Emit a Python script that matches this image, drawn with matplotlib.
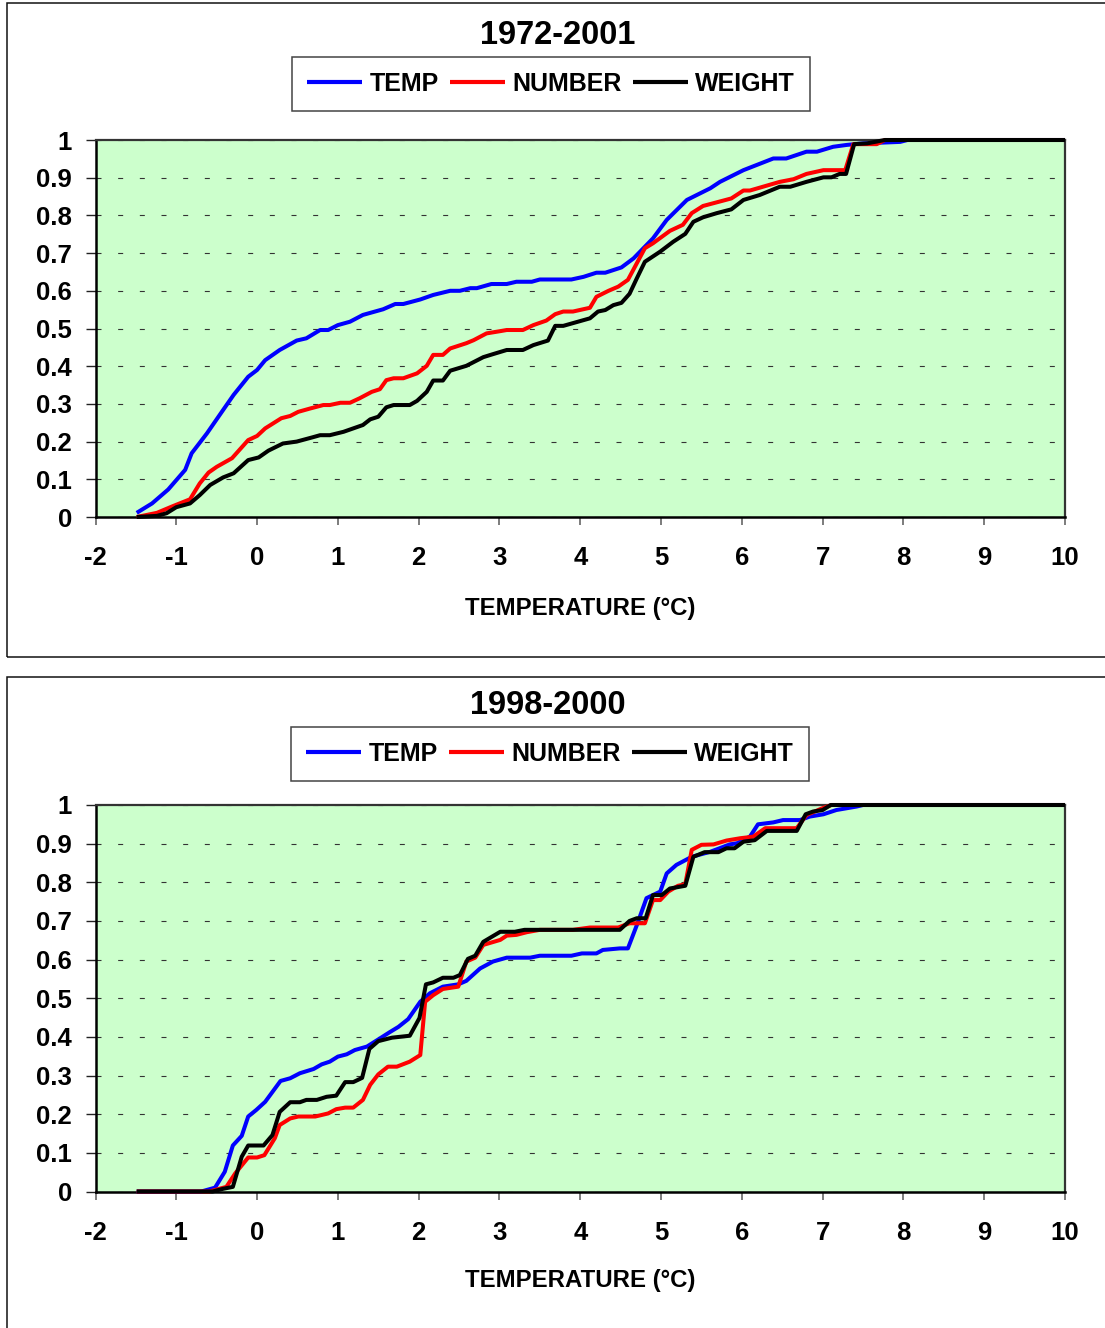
import matplotlib
matplotlib.use("Agg")
import matplotlib.pyplot as plt
from matplotlib.patches import Rectangle

# ---------------- data ----------------
titles = ["1972-2001", "1998-2000"]
series_names = ["TEMP", "NUMBER", "WEIGHT"]
x_ticks = [-2, -1, 0, 1, 2, 3, 4, 5, 6, 7, 8, 9, 10]
x_tick_labels = ["-2", "-1", "0", "1", "2", "3", "4", "5", "6", "7", "8", "9", "10"]
y_ticks = [0, 0.1, 0.2, 0.3, 0.4, 0.5, 0.6, 0.7, 0.8, 0.9, 1.0]
y_tick_labels = ["0", "0.1", "0.2", "0.3", "0.4", "0.5", "0.6", "0.7", "0.8", "0.9", "1"]
x_label = "TEMPERATURE (°C)"

# Panel 1: 1972-2001
p1_temp_x = [-1.49, -1.30, -1.10, -0.89, -0.81, -0.62, -0.42, -0.29, -0.11, 0.00, 0.10, 0.28, 0.49, 0.61,
             0.78, 0.88, 1.00, 1.15, 1.31, 1.56, 1.71, 1.81, 2.02, 2.18, 2.39, 2.51, 2.64, 2.72, 2.90, 3.09,
             3.21, 3.40, 3.50, 3.89, 4.04, 4.20, 4.31, 4.51, 4.66, 4.90, 5.07, 5.32, 5.61, 5.73, 6.02, 6.39,
             6.55, 6.80, 6.93, 7.13, 7.30, 7.50, 7.96, 8.05, 10.0]
p1_temp_y = [0.011, 0.036, 0.073, 0.125, 0.169, 0.222, 0.284, 0.324, 0.372, 0.390, 0.416, 0.443, 0.468, 0.474,
             0.496, 0.496, 0.509, 0.518, 0.536, 0.551, 0.565, 0.565, 0.577, 0.589, 0.600, 0.600, 0.607, 0.607,
             0.618, 0.618, 0.624, 0.624, 0.630, 0.630, 0.637, 0.648, 0.648, 0.662, 0.686, 0.739, 0.788, 0.841,
             0.872, 0.889, 0.920, 0.951, 0.951, 0.969, 0.969, 0.982, 0.987, 0.991, 0.995, 1.0, 1.0]

p1_num_x = [-1.49, -1.24, -1.04, -0.83, -0.71, -0.60, -0.50, -0.31, -0.11, 0.00, 0.10, 0.30, 0.41, 0.51,
            0.66, 0.82, 0.90, 1.03, 1.15, 1.27, 1.42, 1.52, 1.60, 1.69, 1.81, 1.98, 2.10, 2.18, 2.30, 2.39,
            2.59, 2.68, 2.84, 3.01, 3.09, 3.29, 3.42, 3.58, 3.69, 3.79, 3.91, 4.12, 4.20, 4.35, 4.47, 4.59,
            4.70, 4.80, 4.90, 5.11, 5.27, 5.38, 5.52, 5.87, 6.02, 6.10, 6.47, 6.64, 6.80, 7.01, 7.28, 7.38,
            7.67, 7.77, 10.0]
p1_num_y = [0.0, 0.011, 0.029, 0.047, 0.089, 0.118, 0.133, 0.156, 0.204, 0.215, 0.235, 0.262, 0.268, 0.279,
            0.288, 0.297, 0.297, 0.303, 0.303, 0.315, 0.332, 0.339, 0.363, 0.368, 0.368, 0.381, 0.401, 0.430,
            0.430, 0.447, 0.461, 0.469, 0.487, 0.493, 0.496, 0.496, 0.509, 0.521, 0.538, 0.545, 0.545, 0.555,
            0.584, 0.600, 0.611, 0.629, 0.673, 0.713, 0.726, 0.759, 0.775, 0.806, 0.825, 0.845, 0.866, 0.866,
            0.889, 0.896, 0.910, 0.920, 0.920, 0.989, 0.989, 1.0, 1.0]

p1_wt_x = [-1.49, -1.24, -1.12, -1.00, -0.83, -0.71, -0.58, -0.42, -0.29, -0.11, 0.02, 0.14, 0.32, 0.49,
           0.68, 0.78, 0.90, 1.07, 1.31, 1.40, 1.50, 1.60, 1.69, 1.89, 1.98, 2.10, 2.18, 2.30, 2.39, 2.59,
           2.80, 2.92, 3.09, 3.29, 3.42, 3.60, 3.69, 3.79, 4.12, 4.22, 4.31, 4.41, 4.51, 4.61, 4.70, 4.80,
           4.99, 5.15, 5.30, 5.40, 5.52, 5.69, 5.87, 6.02, 6.22, 6.47, 6.60, 6.80, 7.01, 7.11, 7.21, 7.29,
           7.39, 7.55, 7.77, 10.0]
p1_wt_y = [0.0, 0.003, 0.010, 0.026, 0.036, 0.058, 0.085, 0.105, 0.116, 0.151, 0.158, 0.176, 0.195, 0.200,
           0.211, 0.217, 0.217, 0.226, 0.244, 0.259, 0.266, 0.291, 0.297, 0.297, 0.308, 0.332, 0.362, 0.362,
           0.388, 0.401, 0.424, 0.432, 0.443, 0.443, 0.456, 0.468, 0.507, 0.507, 0.527, 0.545, 0.549, 0.562,
           0.568, 0.592, 0.633, 0.677, 0.704, 0.730, 0.751, 0.783, 0.795, 0.806, 0.816, 0.841, 0.854, 0.876,
           0.876, 0.889, 0.901, 0.901, 0.910, 0.910, 0.989, 0.991, 1.0, 1.0]

# Panel 2: 1998-2000
p2_temp_x = [-1.49, -0.69, -0.52, -0.40, -0.30, -0.19, -0.11, -0.01, 0.10, 0.29, 0.41, 0.53, 0.70, 0.80,
             0.90, 1.00, 1.11, 1.21, 1.36, 1.52, 1.64, 1.75, 1.87, 2.02, 2.14, 2.30, 2.49, 2.59, 2.76, 2.92,
             3.09, 3.38, 3.50, 3.89, 4.02, 4.20, 4.28, 4.49, 4.59, 4.70, 4.82, 4.99, 5.07, 5.19, 5.38, 5.61,
             5.85, 5.94, 6.10, 6.20, 6.39, 6.51, 6.72, 6.84, 7.01, 7.17, 7.42, 7.50, 10.0]
p2_temp_y = [0.0, 0.0, 0.010, 0.051, 0.119, 0.144, 0.194, 0.211, 0.232, 0.286, 0.293, 0.306, 0.317, 0.329,
             0.336, 0.349, 0.355, 0.366, 0.375, 0.396, 0.412, 0.426, 0.446, 0.491, 0.513, 0.530, 0.536, 0.545,
             0.577, 0.595, 0.605, 0.605, 0.610, 0.610, 0.616, 0.616, 0.625, 0.629, 0.629, 0.689, 0.759, 0.776,
             0.823, 0.845, 0.866, 0.879, 0.898, 0.901, 0.918, 0.950, 0.955, 0.961, 0.961, 0.970, 0.976, 0.987,
             0.996, 1.0, 1.0]

p2_num_x = [-1.49, -0.59, -0.38, -0.27, -0.11, 0.00, 0.09, 0.22, 0.28, 0.41, 0.51, 0.72, 0.88, 0.98,
            1.09, 1.19, 1.31, 1.40, 1.50, 1.62, 1.73, 1.89, 2.02, 2.08, 2.18, 2.30, 2.49, 2.59, 2.70, 2.80,
            3.01, 3.09, 3.21, 3.34, 3.50, 3.91, 4.12, 4.47, 4.61, 4.80, 4.90, 4.99, 5.09, 5.21, 5.30, 5.38,
            5.50, 5.65, 5.81, 5.98, 6.14, 6.29, 6.68, 6.80, 6.99, 7.11, 10.0]
p2_num_y = [0.0, 0.0, 0.012, 0.047, 0.088, 0.088, 0.094, 0.138, 0.172, 0.189, 0.194, 0.194, 0.202, 0.213,
            0.217, 0.217, 0.237, 0.276, 0.303, 0.323, 0.323, 0.336, 0.353, 0.491, 0.508, 0.524, 0.530, 0.595,
            0.605, 0.638, 0.651, 0.662, 0.664, 0.671, 0.677, 0.677, 0.683, 0.683, 0.694, 0.694, 0.754, 0.754,
            0.776, 0.791, 0.795, 0.884, 0.897, 0.898, 0.908, 0.914, 0.918, 0.940, 0.940, 0.974, 0.991, 1.0, 1.0]

p2_wt_x = [-1.49, -0.55, -0.42, -0.30, -0.19, -0.11, 0.08, 0.19, 0.28, 0.41, 0.53, 0.61, 0.74, 0.86,
           0.98, 1.09, 1.19, 1.30, 1.39, 1.50, 1.67, 1.89, 2.01, 2.09, 2.18, 2.30, 2.43, 2.51, 2.61, 2.70,
           2.80, 3.01, 3.19, 3.31, 4.49, 4.61, 4.70, 4.81, 4.90, 5.01, 5.11, 5.30, 5.40, 5.54, 5.71, 5.81,
           5.91, 6.02, 6.16, 6.31, 6.68, 6.79, 6.88, 7.00, 7.10, 10.0]
p2_wt_y = [0.0, 0.0, 0.007, 0.012, 0.090, 0.119, 0.119, 0.146, 0.206, 0.231, 0.231, 0.237, 0.237, 0.245,
           0.248, 0.283, 0.283, 0.294, 0.369, 0.389, 0.398, 0.403, 0.449, 0.536, 0.541, 0.553, 0.553, 0.560,
           0.602, 0.610, 0.646, 0.672, 0.672, 0.677, 0.677, 0.700, 0.707, 0.707, 0.767, 0.767, 0.784, 0.791,
           0.866, 0.878, 0.878, 0.888, 0.888, 0.905, 0.909, 0.933, 0.933, 0.976, 0.983, 0.987, 1.0, 1.0]

panels = [
    [(p1_temp_x, p1_temp_y), (p1_num_x, p1_num_y), (p1_wt_x, p1_wt_y)],
    [(p2_temp_x, p2_temp_y), (p2_num_x, p2_num_y), (p2_wt_x, p2_wt_y)],
]

# ---------------- style ----------------
colors = ["#0000FF", "#FF0000", "#000000"]
FONT = "Liberation Sans"
plt.rcParams["font.family"] = [FONT, "DejaVu Sans"]
plt.rcParams["font.weight"] = "bold"

W, H = 1105, 1328
fig = plt.figure(figsize=(W / 100, H / 100), dpi=100)
fig.patch.set_facecolor("white")

def fx(px):
    return px / W

def fy(py):
    return 1 - py / H

plot_boxes = [(95.5, 140, 1065, 517), (95.5, 805, 1065, 1191.5)]
frame_boxes = [(7, 3, 1120, 657), (7, 677, 1120, 1340)]
title_pos = [(558, 35), (548, 705)]
legend_pos = [(551, 84), (550, 754)]
xlabel_y = [608, 1281]

for i in range(2):
    fl, ft, fr, fb = frame_boxes[i]
    fig.patches.append(Rectangle((fx(fl), fy(fb)), fx(fr - fl), (fb - ft) / H,
                                 transform=fig.transFigure, fill=False,
                                 edgecolor="#111111", linewidth=1.1, zorder=0))

    l, t, r, b = plot_boxes[i]
    ax = fig.add_axes([fx(l), fy(b), fx(r - l), (b - t) / H])
    ax.set_facecolor("#CCFFCC")

    for (xs, ys), c, name in zip(panels[i], colors, series_names):
        ax.plot(xs, ys, color=c, lw=2.9, label=name, clip_on=False,
                solid_joinstyle="round", solid_capstyle="butt", zorder=3)

    ax.set_xlim(-2, 10)
    ax.set_ylim(0, 1)
    ax.set_xticks(x_ticks)
    ax.set_xticklabels(x_tick_labels)
    ax.set_yticks(y_ticks)
    ax.set_yticklabels(y_tick_labels)
    ax.tick_params(axis="x", direction="out", length=6, width=1.2, color="#666666",
                   pad=15, labelsize=18.5)
    ax.tick_params(axis="y", direction="out", length=7, width=1.0, color="#222222",
                   pad=10, labelsize=18.5)
    for lab in ax.get_xticklabels() + ax.get_yticklabels():
        lab.set_fontweight("bold")

    ax.yaxis.grid(True, linestyle=(0, (4.5, 15)), color="#333333", linewidth=0.8)
    ax.xaxis.grid(False)
    ax.set_axisbelow(True)

    for side in ["left", "bottom"]:
        ax.spines[side].set_color("#000000")
        ax.spines[side].set_linewidth(1.8)
    for side in ["top", "right"]:
        ax.spines[side].set_color("#333333")
        ax.spines[side].set_linewidth(1.6)

    ax.set_xlabel(x_label, fontsize=17.3, fontweight="bold")
    ax.xaxis.set_label_coords(0.5, (b - xlabel_y[i]) / (b - t))
    ax.xaxis.label.set_va("center")

    tx, ty = title_pos[i]
    fig.text(fx(tx), fy(ty), titles[i], ha="center", va="center",
             fontsize=23.5, fontweight="bold")

    lx, ly = legend_pos[i]
    leg = ax.legend(loc="center", bbox_to_anchor=(fx(lx), fy(ly)),
                    bbox_transform=fig.transFigure, ncol=3, frameon=True,
                    fancybox=False, shadow=False, framealpha=1,
                    prop={"family": FONT, "weight": "bold", "size": 18},
                    handlelength=2.2, handletextpad=0.3, columnspacing=0.45,
                    borderpad=0.6, borderaxespad=0)
    leg.get_frame().set_edgecolor("#444444")
    leg.get_frame().set_linewidth(1.1)
    for h in leg.get_lines():
        h.set_linewidth(3.0)

fig.savefig("out.png", dpi=100, facecolor="white")
